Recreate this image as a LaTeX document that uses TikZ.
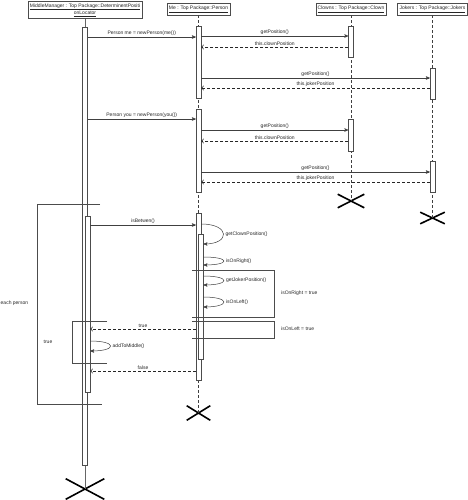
\documentclass[tikz,border=0pt]{standalone}
\usepackage{fontspec}
\setmainfont{Liberation Sans}
\usetikzlibrary{arrows,shapes}

\begin{document}
\begin{tikzpicture}[x=1pt,y=-1pt,>=stealth',
  every node/.style={font=\fontsize{5}{6}\selectfont,text=black!85},
  obj/.style={draw=black!70,fill=white,inner xsep=2pt,inner ysep=2pt,minimum height=12pt,align=center},
  act/.style={draw=black!70,fill=white,minimum width=5pt,inner sep=0pt},
  life/.style={draw=black!75,dash pattern=on 3pt off 2pt,line width=0.7pt},
  call/.style={->,draw=black!75,line width=0.5pt},
  ret/.style={-to,draw=black!85,dash pattern=on 3pt off 2pt,line width=0.8pt},
  msg/.style={above,inner sep=1.5pt},
  xmark/.style={cross out,draw=black,line width=1.6pt,inner sep=0pt},
  frame/.style={draw=black!70,line width=0.5pt}]
  \useasboundingbox (0,0) rectangle (467,500);

  % objects
  \node[obj] (mm)    at (85,10)    {\underline{MiddleManager : Top Package::DeterminentPositi}\\\underline{onLocator}};
  \node[obj] (me)    at (198.5,9)  {\underline{Me : Top Package::Person}};
  \node[obj] (clown) at (351,9)    {\underline{Clowns : Top Package::Clown}};
  \node[obj] (joker) at (432.5,9)  {\underline{Jokers : Top Package::Jokers}};

  % destruction
  \node[xmark,minimum width=37pt,minimum height=19pt] (xmm)    at (85,489)    {};
  \node[xmark,minimum width=22pt,minimum height=13pt] (xme)    at (198.5,413) {};
  \node[xmark,minimum width=25pt,minimum height=12pt] (xclown) at (351,201)   {};
  \node[xmark,minimum width=23pt,minimum height=10pt] (xjoker) at (432.5,218) {};

  % lifelines
  \draw[draw=black!60,line width=0.7pt] (mm.south) -- (xmm.center);
  \draw[life] (me.south)    -- (xme.center);
  \draw[life] (clown.south) -- (xclown.center);
  \draw[life] (joker.south) -- (xjoker.center);

  % activations
  \node[act,minimum height=438pt] (mm1)    at (85,246)     {};
  \node[act,minimum height=176pt] (mm2)    at (87.5,304)   {};
  \node[act,minimum height=72pt]  (me1)    at (198.5,62)   {};
  \node[act,minimum height=83pt]  (me2)    at (198.5,150.5) {};
  \node[act,minimum height=167pt] (me3)    at (198.5,296.5) {};
  \node[act,minimum height=125pt] (me4)    at (200.8,296.5) {};
  \node[act,minimum height=31pt]  (clown1) at (351,41.5)   {};
  \node[act,minimum height=32pt]  (clown2) at (351,135)    {};
  \node[act,minimum height=31pt]  (joker1) at (432.5,83.5) {};
  \node[act,minimum height=31pt]  (joker2) at (432.5,176.5) {};

  % first person
  \draw[call] (mm1.east |- 0,37) -- node[msg] (l1) {Person me = newPerson(me())} (me1.west |- 0,37);
  \draw[call] (me1.east |- 0,36) -- node[msg] (l2) {getPosition()} (clown1.west |- 0,36);
  \draw[ret] (clown1.west |- 0,47) -- node[msg] (l3) {this.clownPosition} (me1.east |- 0,47);
  \draw[call] (me1.east |- 0,78) -- node[msg] (l4) {getPosition()} (joker1.west |- 0,78);
  \draw[ret] (joker1.west |- 0,88) -- node[msg] (l5) {this.jokerPosition} (me1.east |- 0,88);

  % second person
  \draw[call] (mm1.east |- 0,119) -- node[msg] (l6) {Person you = newPerson(you())} (me2.west |- 0,119);
  \draw[call] (me2.east |- 0,130) -- node[msg] (l7) {getPosition()} (clown2.west |- 0,130);
  \draw[ret] (clown2.west |- 0,141) -- node[msg] (l8) {this.clownPosition} (me2.east |- 0,141);
  \draw[call] (me2.east |- 0,172) -- node[msg] (l9) {getPosition()} (joker2.west |- 0,172);
  \draw[ret] (joker2.west |- 0,182) -- node[msg] (l10) {this.jokerPosition} (me2.east |- 0,182);

  % loop
  \draw[call] (mm2.east |- 0,225) -- node[msg] (l11) {isBetwen()} (me3.west |- 0,225);
  \draw[call] (me3.east |- 0,224) .. controls +(29,0) and +(27,0) .. node[right,inner sep=2pt] (l12) {getClownPosition()} (me4.east |- 0,244);
  \draw[call] (me4.east |- 0,257) .. controls +(27,0) and +(27,0) .. node[right,inner sep=2pt] (l13) {isOnRight()} (me4.east |- 0,265);
  \draw[call] (me4.east |- 0,276) .. controls +(27,0) and +(27,0) .. node[right,inner sep=2pt] (l14) {getJokerPosition()} (me4.east |- 0,285);
  \draw[call] (me4.east |- 0,297) .. controls +(27,0) and +(27,0) .. node[right,inner sep=2pt] (l15) {isOnLeft()} (me4.east |- 0,307);
  \draw[ret] (me3.west |- 0,329) -- node[msg] (l16) {true} (mm2.east |- 0,329);
  \draw[call] (mm2.east |- 0,341) .. controls +(27,0) and +(27,0) .. node[right,inner sep=2pt] (l17) {addToMiddle()} (mm2.east |- 0,351);
  \draw[ret] (me3.west |- 0,371) -- node[msg] (l18) {false} (mm2.east |- 0,371);

  % frames
  \draw[frame] (100,204) -- (37,204) -- (37,404) -- (102,404);
  \node[anchor=west,inner sep=0pt] (loop) at (0.5,303) {each person};
  \draw[frame] (107,321) -- (72,321) -- (72,363) -- (107,363);
  \node (alt) at (48,342) {true};
  \draw[frame] (192,270) -- (274,270) -- (274,317) -- (192,317);
  \node[anchor=west,inner sep=0pt] (right) at (281,293) {isOnRight = true};
  \draw[frame] (192,321) -- (274,321) -- (274,338) -- (192,338);
  \node[anchor=west,inner sep=0pt] (left) at (281,329) {isOnLeft = true};
\end{tikzpicture}
\end{document}
